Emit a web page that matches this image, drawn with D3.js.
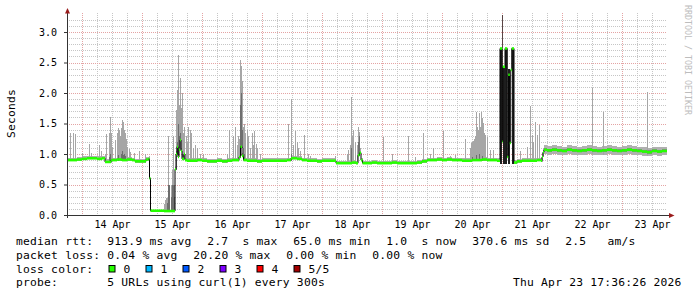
<!DOCTYPE html>
<html><head><meta charset="utf-8">
<script src="https://cdn.jsdelivr.net/npm/d3@7"></script>
<style>
html,body{margin:0;padding:0;background:#fff;}
svg{display:block;}
text{font-family:"DejaVu Sans Mono",monospace;}
</style></head><body>
<svg id="chart" width="697" height="297"></svg>
<script>
// ---------------- DATA ----------------
const startTime = Date.UTC(2026, 3, 13, 18, 0, 0);   // left edge of graph
const spanHours = 240;                                // 10 days shown
const yTickValues = [0, 0.5, 1.0, 1.5, 2.0, 2.5, 3.0];
const xTickDays = ["2026-04-14","2026-04-15","2026-04-16","2026-04-17","2026-04-18",
                   "2026-04-19","2026-04-20","2026-04-21","2026-04-22","2026-04-23"];
const xTickLabels = ["14 Apr","15 Apr","16 Apr","17 Apr","18 Apr","19 Apr","20 Apr","21 Apr","22 Apr","23 Apr"];

// median rtt, [hours since start, seconds]
const medianPts = [
 [0,0.90],[2,0.90],[4,0.91],[6,0.92],[8,0.93],[10,0.93],[12,0.92],[14,0.93],[15.2,0.87],[17.6,0.90],
 [20,0.91],[22,0.90],[24,0.91],[26,0.90],[27.2,0.88],[30,0.88],[31.6,0.91],[32.6,0.92],[33.0,0.60],[33.4,0.07],
 [38.8,0.065],[43.2,0.75],[43.6,1.0],[44.0,1.12],[44.4,0.95],[44.8,1.07],[45.2,1.23],[45.6,1.05],[46.0,0.92],[46.8,1.0],
 [47.2,0.90],[48,0.89],[50,0.89],[52,0.90],[54,0.89],[56,0.88],[58,0.88],[60,0.89],[62,0.88],[64,0.89],
 [66,0.90],[68.4,0.90],[68.8,0.95],[69.4,1.12],[70.0,0.97],[70.6,0.90],[72,0.89],[74,0.89],[76,0.88],[78,0.89],
 [80,0.89],[82,0.89],[84,0.89],[86,0.89],[88,0.90],[89.6,0.93],[92,0.92],[94,0.90],[96,0.89],[98,0.89],
 [100,0.88],[102,0.89],[104,0.89],[106,0.89],[107.6,0.85],[110,0.85],[112,0.85],[114,0.86],[115.6,0.85],[116.4,0.98],
 [117.0,1.02],[117.6,0.90],[118.2,0.85],[120,0.85],[122,0.86],[124,0.85],[126,0.85],[128,0.85],[130,0.86],[132,0.85],
 [134,0.85],[136,0.85],[138,0.85],[140,0.86],[142,0.88],[144,0.90],[146,0.90],[148,0.91],[150,0.90],[152,0.91],
 [154,0.90],[156,0.90],[158,0.89],[160,0.89],[162,0.90],[164,0.90],[166,0.91],[168,0.90],[170,0.90],[172,0.89],
 [173.2,2.73],[174.1,1.20],[174.3,2.43],[175.2,2.73],[176.1,0.95],[176.5,2.30],[177.1,1.18],[177.5,2.38],[177.9,2.73],[178.8,0.86],
 [180,0.88],[182,0.89],[184,0.89],[186,0.89],[188,0.90],[189.6,0.89],[190.0,0.95],[190.4,1.03],[190.8,1.07],[192,1.06],
 [194,1.07],[196,1.06],[198,1.05],[200,1.07],[202,1.06],[204,1.05],[206,1.06],[208,1.07],[210,1.06],[212,1.05],
 [214,1.06],[216,1.07],[218,1.06],[220,1.05],[222,1.06],[224,1.07],[226,1.06],[228,1.05],[230,1.04],[232,1.03],
 [234,1.05],[236,1.04],[238,1.05],[240,1.05]
];

// smoke spread around the median: [from h, to h, seconds below, seconds above]
const smokeBand = [[0,33.0,0.02,0.04],[33.4,43.2,0.012,0.015],[43.2,173.2,0.02,0.04],[178.8,190.0,0.02,0.04],[190.0,240,0.07,0.07]];
const smokeCore = [[190.4,240,0.025,0.03]];

// smoke spikes: [hours, max seconds, inner (darker) seconds or 0]
const spikes = [
 [1.0,1.35,0],[2.2,1.35,0],[3.2,1.32,0],[6.0,1.02,0],[8.6,1.16,0],[9.4,1.02,0],[12.8,1.15,0],[13.4,1.05,0],
 [15.3,1.0,0],[15.7,1.32,0],[16.6,1.34,0.95],[17.0,1.60,1.0],[17.4,1.34,0],[18.0,1.12,0],[19.3,1.23,0],[19.8,1.35,0],
 [20.3,1.42,0.98],[20.7,1.39,0],[21.1,1.30,0],[21.4,1.42,1.0],[21.8,1.56,1.05],[22.2,1.52,0.98],[22.6,1.40,1.0],[23.0,1.34,0.97],
 [23.4,1.25,0],[24.0,1.12,0],[24.8,1.08,0],[25.3,1.03,0],[26.7,1.02,0],[28.7,1.05,0],[31.3,1.0,0],
 [38.6,0.18,0],[39.0,0.25,0],[39.4,0.28,0],[39.8,0.28,0.2],[40.2,0.49,0.45],[40.5,1.29,0.49],[40.9,0.49,0.49],
 [41.4,0.49,0.3],[41.8,0.74,0.49],[42.2,0.49,0.3],[42.5,1.29,0.5],[42.9,0.5,0.3],
 [43.4,1.72,1.05],[43.8,2.05,1.2],[44.2,1.75,1.4],[44.5,2.62,1.5],[44.9,1.8,1.3],[45.3,2.24,1.35],[45.7,1.75,1.1],
 [46.0,2.0,1.0],[46.4,1.34,0.98],[46.9,1.45,0],[47.4,1.3,0],[47.9,1.2,0],[48.5,1.45,0],[49.2,1.39,0],[49.6,1.35,0],
 [50.4,1.1,0],[51.2,1.15,0],[51.9,1.1,0],[53.2,1.0,0],[54.5,1.0,0],[63.9,1.0,0],[64.8,1.40,0],[66.4,1.30,0],
 [67.2,1.45,0],[67.9,1.15,0],[68.4,1.30,0],[68.9,1.25,0],[69.2,2.54,1.8],[69.5,2.45,2.0],[69.9,2.2,1.4],[70.3,1.45,1.1],
 [70.7,1.5,1.0],[71.2,1.35,0],[71.9,1.39,0],[72.5,1.3,0],[73.2,1.1,0],[73.9,1.34,0],[74.4,1.15,0],[74.9,1.38,0],
 [75.6,1.17,0],[76.1,1.1,0],[77.2,1.0,0],
 [88.5,1.50,0],[89.5,1.91,1.0],[90.3,1.15,0],[91.2,1.38,0],[91.9,1.2,0],[92.5,1.1,0],[93.2,1.05,0],[94.9,1.31,0],
 [96.3,1.0,0],[97.2,0.97,0],[107.2,0.97,0],[111.9,1.0,0],[112.5,1.07,0],[113.2,1.15,0],[113.5,1.93,1.1],[113.8,1.3,0],
 [114.5,1.39,0],[115.2,1.2,0],[115.9,1.15,0],[116.5,1.45,1.2],[116.9,1.36,1.3],[117.3,1.1,0],
 [126.5,1.28,0],[129.9,1.0,0],[136.5,1.29,0],[139.2,0.95,0],[142.3,1.34,0],[145.2,1.0,0],[146.5,1.1,0],[150.5,1.37,0],
 [153.2,0.97,0],[155.2,0.98,0],[159.2,1.24,0],[161.2,1.1,0],[161.6,1.18,0],[162.0,1.2,0.95],[162.4,1.22,0],[162.8,1.25,0],
 [163.2,1.3,0],[163.6,1.69,0.98],[164.0,1.45,0],[164.4,1.4,0],[164.8,1.67,1.0],[165.2,1.45,0],[165.6,1.69,0],[166.0,1.59,0.97],
 [166.5,1.51,0],[166.9,1.35,0],[167.2,1.31,0],[167.9,1.28,0],[169.2,1.07,0],[170.5,1.07,0],
 [173.9,3.28,3.28],
 [181.2,1.05,0],[184.0,1.12,0],[185.2,1.78,0],[185.9,1.31,0],[186.4,1.2,0],[187.2,1.53,0],[188.1,1.31,0],[188.9,1.48,0],
 [189.9,1.0,0],[209.9,2.09,0],[214.3,1.69,0],[231.9,2.01,0]
];

// periods where all probes were slow (dark smoke): [from h, to h, top seconds]
const darkBars = [[173.2,174.1,2.73],[174.3,175.1,2.43],[175.2,176.1,2.73],[176.5,177.3,2.40],[177.9,178.8,2.73]];

const legendRtt  = ["median rtt:", "913.9 ms avg", "2.7  s max", "65.0 ms min", "1.0  s now", "370.6 ms sd", "2.5   am/s"];
const legendLoss = ["packet loss:", "0.04 % avg", "20.20 % max", "0.00 % min", "0.00 % now"];
const lossLevels = ["0", "1", "2", "3", "4", "5/5"];
const lossColors = ["#26ff00", "#00b8ff", "#0059ff", "#7e00ff", "#ff0000", "#a10000"];
const probeText  = ["probe:", "5 URLs using curl(1) every 300s", "Thu Apr 23 17:36:26 2026"];
const yTitle = "Seconds";
const watermark = "RRDTOOL / TOBI OETIKER";

// ---------------- DRAWING ----------------
const svg = d3.select("#chart");
const L = 67, R = 667, T = 15, B = 215;
const t0 = new Date(startTime), t1 = new Date(startTime + spanHours * 3600e3);
const x = d3.scaleUtc().domain([t0, t1]).range([L, R]);
const hx = h => x(new Date(startTime + h * 3600e3));
const y = d3.scaleLinear().domain([0, 3.279]).range([B, T]);
const px = v => Math.round(v) + 0.5;
const keep = s => s.replace(/ /g, "\u00a0");

svg.append("rect").attr("width", 697).attr("height", 297).attr("fill", "#fff");

// grid
const grid = svg.append("g");
const minorY = d3.range(1, 33).map(i => i / 10).filter(v => Math.abs(v * 2 - Math.round(v * 2)) > 1e-6);
const majorY = d3.range(1, 7).map(i => i / 2);
const minorX = d3.utcHour.every(6).range(t0, t1).filter(d => d.getUTCHours() !== 0);
const majorX = d3.utcDay.range(t0, t1);
grid.selectAll(".mny").data(minorY).join("line")
  .attr("x1", L).attr("x2", R).attr("y1", d => px(y(d))).attr("y2", d => px(y(d)))
  .attr("stroke", "#c6c6c6").attr("stroke-dasharray", "1,1");
grid.selectAll(".mnx").data(minorX).join("line")
  .attr("y1", 13).attr("y2", B).attr("x1", d => px(x(d))).attr("x2", d => px(x(d)))
  .attr("stroke", "#c6c6c6").attr("stroke-dasharray", "1,1");
grid.selectAll(".mjy").data(majorY).join("line")
  .attr("x1", L).attr("x2", R).attr("y1", d => px(y(d))).attr("y2", d => px(y(d)))
  .attr("stroke", "#e4a4a4").attr("stroke-dasharray", "1,1");
grid.selectAll(".mjx").data(majorX).join("line")
  .attr("y1", 13).attr("y2", B).attr("x1", d => px(x(d))).attr("x2", d => px(x(d)))
  .attr("stroke", "#e4a4a4").attr("stroke-dasharray", "1,1");

// helpers
const bis = d3.bisector(d => d[0]).right;
const medAt = h => medianPts[Math.max(0, bis(medianPts, h) - 1)][1];
const segAt = (segs, h) => segs.find(s => h >= s[0] && h < s[1]);
const steps = medianPts.slice(0, -1).map((p, i) => ({h0: p[0], h1: medianPts[i + 1][0], v: p[1]}));

const data = svg.append("g").attr("shape-rendering", "crispEdges");

// smoke band around median
data.selectAll(".band").data(steps.filter(s => segAt(smokeBand, s.h0))).join("rect")
  .attr("x", s => hx(s.h0)).attr("width", s => hx(s.h1) - hx(s.h0))
  .attr("y", s => y(s.v + segAt(smokeBand, s.h0)[3]))
  .attr("height", s => y(s.v - segAt(smokeBand, s.h0)[2]) - y(s.v + segAt(smokeBand, s.h0)[3]))
  .attr("fill", "#b0b0b0");

// spikes (outer)
const baseOf = h => { const b = segAt(smokeBand, h); return medAt(h) - (b ? b[2] : 0); };
data.selectAll(".sp").data(spikes).join("rect")
  .attr("x", d => Math.round(hx(d[0]))).attr("width", 1)
  .attr("y", d => y(d[1])).attr("height", d => Math.max(0, y(baseOf(d[0])) - y(d[1])))
  .attr("fill", "#a6a6a6");
// spikes (inner)
data.selectAll(".spi").data(spikes.filter(d => d[2] > 0)).join("rect")
  .attr("x", d => Math.round(hx(d[0]))).attr("width", 1)
  .attr("y", d => y(d[2])).attr("height", d => Math.max(0, y(baseOf(d[0])) - y(d[2])))
  .attr("fill", d => d[1] > 3 ? "#5a4444" : "#6e6e6e");

// inner band
data.selectAll(".core").data(steps.filter(s => segAt(smokeCore, s.h0))).join("rect")
  .attr("x", s => hx(s.h0)).attr("width", s => hx(s.h1) - hx(s.h0))
  .attr("y", s => y(s.v + segAt(smokeCore, s.h0)[3]))
  .attr("height", s => y(s.v - segAt(smokeCore, s.h0)[2]) - y(s.v + segAt(smokeCore, s.h0)[3]))
  .attr("fill", "#8a8a8a");

// dark bars
data.selectAll(".dark").data(darkBars).join("rect")
  .attr("x", d => hx(d[0])).attr("width", d => hx(d[1]) - hx(d[0]))
  .attr("y", d => y(d[2])).attr("height", d => y(0.84) - y(d[2]))
  .attr("fill", "#1e1e1e");

// median black step line
svg.append("path")
  .attr("d", d3.line().x(d => hx(d[0])).y(d => y(d[1])).curve(d3.curveStepAfter)(medianPts))
  .attr("fill", "none").attr("stroke", "#000").attr("stroke-width", 1);

// median green (loss 0)
svg.append("g").selectAll("line").data(steps).join("line")
  .attr("x1", s => hx(s.h0)).attr("x2", s => hx(s.h1))
  .attr("y1", s => y(s.v)).attr("y2", s => y(s.v))
  .attr("stroke", lossColors[0]).attr("stroke-width", 2.6);

// axes
const yAxis = d3.axisLeft(y).tickValues(yTickValues).tickFormat(d3.format(".1f")).tickSize(3).tickPadding(7);
const gy = svg.append("g").attr("transform", `translate(${L},0)`).call(yAxis);
gy.select(".domain").remove();
gy.selectAll("line").attr("stroke", "#333");
gy.selectAll("text").attr("font-family", "DejaVu Sans Mono").attr("font-size", 10).attr("fill", "#000");

const noon = xTickDays.map(s => new Date(s + "T12:00:00Z"));
const xAxis = d3.axisBottom(x).tickValues(noon).tickFormat((d, i) => xTickLabels[i]).tickSize(0).tickPadding(6);
const gx = svg.append("g").attr("transform", `translate(0,${B})`).call(xAxis);
gx.select(".domain").remove();
gx.selectAll("text").attr("font-family", "DejaVu Sans Mono").attr("font-size", 10).attr("fill", "#000");

svg.append("path").attr("d", `M64,${B + 0.5}H670`).attr("stroke", "#333").attr("fill", "none");
svg.append("path").attr("d", `M${L + 0.5},218V12`).attr("stroke", "#333").attr("fill", "none");
svg.append("path").attr("d", `M65,13.5L70,13.5L67.5,8Z`).attr("fill", "#9a1c1c");
svg.append("path").attr("d", `M669,213L669,218L674.5,215.5Z`).attr("fill", "#9a1c1c");

// y title
svg.append("text").attr("transform", "translate(15,113.5) rotate(-90)")
  .attr("text-anchor", "middle").attr("font-size", 11.3).attr("letter-spacing", 0.2).text(yTitle);

// watermark
svg.append("text").attr("transform", "translate(685,5) rotate(90)")
  .attr("font-size", 8.3).attr("fill", "#bdbdbd").text(watermark);

// legend
const lg = svg.append("g").attr("font-size", 11.3).attr("letter-spacing", 0.22).attr("fill", "#000");
const row1X = [16, 107.3, 207.3, 293.3, 386.3, 472.3, 565.3];
const row2X = [16, 107.3, 193.3, 286.3, 372.3];
lg.selectAll(".r1").data(legendRtt).join("text").attr("x", (d, i) => row1X[i]).attr("y", 245.3).text(d => keep(d));
lg.selectAll(".r2").data(legendLoss).join("text").attr("x", (d, i) => row2X[i]).attr("y", 259).text(d => keep(d));
lg.append("text").attr("x", 16).attr("y", 272.7).text(keep("loss color:"));
lossLevels.forEach((lab, i) => {
  const bx = 108.5 + i * 37;
  lg.append("rect").attr("x", bx + 0.5).attr("y", 265.5).attr("width", 6).attr("height", 6.5)
    .attr("fill", lossColors[i]).attr("stroke", "#000").attr("stroke-width", 1);
  lg.append("text").attr("x", bx + 15).attr("y", 272.7).text(lab);
});
lg.append("text").attr("x", 16).attr("y", 286.4).text(keep(probeText[0]));
lg.append("text").attr("x", 107.3).attr("y", 286.4).text(keep(probeText[1]));
lg.append("text").attr("x", 513).attr("y", 286.4).text(keep(probeText[2]));
</script>
</body></html>
